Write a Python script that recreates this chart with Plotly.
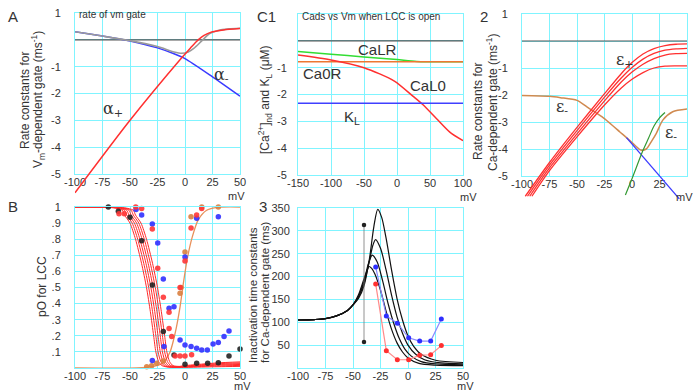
import plotly.graph_objects as go

W, H = 693, 392
CY = "#80f4ff"
TXT = "#333333"
FONT = "Liberation Sans, Arial, sans-serif"

# ---------------- Panel A : rate of vm gate ----------------
A_alpha_plus_x = [-100, -50, -3, 5, 10, 15, 20, 25, 35, 50]
A_alpha_plus_y = [-5.7, -3.0, -0.67, -0.3, -0.08, 0.1, 0.22, 0.3, 0.37, 0.42]
A_alpha_minus_x = [-100, -75, -50, -25, -10, 0, 25, 50]
A_alpha_minus_y = [0.3, 0.14, -0.04, -0.3, -0.52, -0.7, -1.38, -2.1]
A_sum_x = [-100, -75, -50, -25, -10, -3, 3, 8, 15, 22, 30, 40, 50]
A_sum_y = [0.3, 0.14, -0.03, -0.25, -0.45, -0.5, -0.45, -0.32, -0.05, 0.22, 0.35, 0.41, 0.43]

# ---------------- Panel C1 : Cads vs Vm ----------------
C_x_flat = [-150, 100]
C_CaLR_x = [-150, -100, -50, 0, 30, 100]
C_CaLR_y = [-0.4, -0.5, -0.6, -0.7, -0.77, -0.78]
C_Ca0R_y = [-0.78, -0.78]
C_CaL0_x = [-150, -100, -50, -4, 24, 39, 60, 80, 100]
C_CaL0_y = [-0.53, -0.71, -1.0, -1.5, -2.06, -2.37, -2.9, -3.4, -3.72]
C_KL_y = [-2.33, -2.33]

# ---------------- Panel 2 : Ca-dependent gate rates ----------------
E_plus_x = [
    [-97, -75, -50, -25, -10, 0, 10, 20, 30, 40, 50],
    [-95, -75, -50, -25, -10, 0, 10, 20, 30, 40, 50],
    [-93, -75, -50, -25, -10, 0, 10, 20, 30, 40, 50],
    [-91, -75, -50, -25, -10, 0, 10, 20, 30, 40, 50],
]
E_plus_y = [
    [-5.75, -4.5, -3.2, -1.95, -1.22, -0.8, -0.48, -0.28, -0.17, -0.12, -0.11],
    [-5.75, -4.6, -3.32, -2.08, -1.38, -0.98, -0.67, -0.46, -0.34, -0.29, -0.27],
    [-5.75, -4.7, -3.44, -2.22, -1.53, -1.15, -0.86, -0.65, -0.52, -0.47, -0.46],
    [-5.75, -4.8, -3.55, -2.37, -1.75, -1.42, -1.17, -1.0, -0.93, -0.92, -0.92],
]
E_minus_x = [-100, -75, -65, -50, -41, -35, -26, -18, -11, -5, 1, 5, 8, 13, 18, 22, 28, 37, 50]
E_minus_y = [-2.02, -2.05, -2.1, -2.2, -2.44, -2.6, -2.85, -3.12, -3.37, -3.58, -3.8, -3.95, -4.04, -4.0, -3.7, -3.43, -2.93, -2.62, -2.52]
E_blue_x = [-5, 0, 20, 43]
E_blue_y = [-3.58, -3.82, -4.75, -5.85]
E_green_x = [-6, 0, 10, 15, 20, 25, 30]
E_green_y = [-5.7, -5.1, -4.05, -3.6, -3.15, -2.85, -2.65]

# ---------------- Panel B : pO for LCC ----------------
B_red_x = [
    [-100, -65, -57, -55, -50, -45, -39.5, -35, -31.5, -28.5, -26.5, -24, -21, -15, 0, 15, 30, 50],
    [-100, -63, -55, -53, -48, -43, -37.5, -33, -29.5, -26.5, -24.5, -22, -19, -13, 0, 15, 30, 50],
    [-100, -61, -53, -51, -46, -41, -35.5, -31, -27.5, -24.5, -22.5, -20, -17, -11, 0, 15, 30, 50],
    [-100, -59, -51, -49, -44, -39, -33.5, -29, -25.5, -22.5, -20.5, -18, -15, -9, 0, 15, 30, 50],
    [-100, -57, -49, -47, -42, -37, -31.5, -27, -23.5, -20.5, -18.5, -16, -13, -7, 0, 15, 30, 50],
    [-100, -55, -47, -45, -40, -35, -29.5, -25, -21.5, -18.5, -16.5, -14, -11, -5, 0, 15, 30, 50],
]
B_red_y = [
    [1, 0.995, 0.98, 0.95, 0.9, 0.8, 0.65, 0.5, 0.35, 0.2, 0.1, 0.04, 0.015, 0.005, 0.004, 0.006, 0.008, 0.01],
    [1, 0.995, 0.98, 0.95, 0.9, 0.8, 0.65, 0.5, 0.35, 0.2, 0.1, 0.04, 0.015, 0.005, 0.006, 0.01, 0.013, 0.016],
    [1, 0.995, 0.98, 0.95, 0.9, 0.8, 0.65, 0.5, 0.35, 0.2, 0.1, 0.04, 0.015, 0.006, 0.008, 0.013, 0.018, 0.022],
    [1, 0.995, 0.98, 0.95, 0.9, 0.8, 0.65, 0.5, 0.35, 0.2, 0.1, 0.04, 0.015, 0.007, 0.01, 0.016, 0.022, 0.027],
    [1, 0.995, 0.98, 0.95, 0.9, 0.8, 0.65, 0.5, 0.35, 0.2, 0.1, 0.04, 0.015, 0.008, 0.012, 0.02, 0.027, 0.032],
    [1, 0.995, 0.98, 0.95, 0.9, 0.8, 0.65, 0.5, 0.35, 0.2, 0.1, 0.04, 0.015, 0.01, 0.015, 0.024, 0.032, 0.038],
]
B_orange_x = [-100, -44, -30, -20.6, -13.6, -9, -4.5, -1.5, 2.4, 6.7, 12, 19.7, 30, 50]
B_orange_y = [0, 0, 0.008, 0.03, 0.1, 0.215, 0.38, 0.526, 0.69, 0.816, 0.92, 0.98, 0.998, 1.0]

B_dots_black_x = [-69.7, -60.6, -50, -39.4, -29.7, -19.7, -10, 0, 10.6, 20.6, 30.3, 40, 50]
B_dots_black_y = [1.0, 0.973, 0.936, 0.79, 0.516, 0.226, 0.081, 0.023, 0.029, 0.029, 0.033, 0.075, 0.118]
B_dots_red_x = [-60, -55.2, -44.8, -39.4, -29.7, -24.8, -19.7, -14.5, -14.5, -12.1, -9, -4.5, 0, 6, -4.5, 0, 5.5, 10.6, 15.2, 20.3]
B_dots_red_y = [0.958, 0.958, 1.0, 0.99, 0.863, 0.619, 0.439, 0.346, 0.246, 0.195, 0.075, 0.075, 0.075, 0.083, 0.5, 0.665, 0.87, 0.95, 0.99, 1.02]
B_dots_blue_x = [-44.5, -39.4, -29.7, -24.8, -19.7, -14.5, -10, -19.1, -4.5, 0, 5.5, 10.6, 15.2, 20.3, 25.5, 30.3, 35.5, 40, -29.7, 0, 10.6, 30.3]
B_dots_blue_y = [0.985, 0.95, 0.894, 0.776, 0.553, 0.371, 0.381, 0.133, 0.174, 0.143, 0.133, 0.122, 0.112, 0.112, 0.149, 0.159, 0.195, 0.23, 0.046, 0.69, 0.93, 0.94]
B_dots_orange_x = [-34.8, -30.3, -25.8, -19.7, -4.5, -3.6, 0, 5.5, 15.2, 20.3, 24.8, 30.3]
B_dots_orange_y = [0.008, 0.014, 0.029, 0.043, 0.464, 0.5, 0.72, 0.94, 1.0, 1.02, 1.01, 1.0]

# ---------------- Panel 3 : inactivation time constants ----------------
T_x = [
    [-100, -85, -75, -65, -55, -50, -45, -40, -37, -35.5, -33, -30, -25, -20, -15, -10, -5, 0, 10, 25, 50],
    [-100, -85, -75, -65, -55, -50, -45, -40, -36, -32.5, -28, -23, -18, -13, -8, -3, 3, 12, 25, 50],
    [-100, -85, -75, -65, -55, -50, -45, -40, -35, -32, -29.5, -25, -20, -15, -10, -5, 0, 7, 15, 30, 50],
    [-100, -85, -75, -65, -55, -50, -45, -40, -35, -31, -27.5, -24, -20, -15, -10, -5, 0, 5, 12, 25, 50],
]
T_y = [
    [105, 106, 108, 114, 126, 138, 160, 195, 215, 222, 218, 205, 170, 125, 85, 55, 35, 22, 10, 6, 5],
    [105, 106, 108, 114, 126, 138, 157, 190, 228, 247, 232, 190, 140, 98, 65, 42, 26, 14, 9, 7],
    [105, 106, 108, 114, 126, 138, 155, 185, 235, 268, 281, 262, 215, 160, 112, 76, 50, 30, 18, 11, 9],
    [105, 106, 108, 114, 126, 138, 152, 180, 240, 310, 347, 330, 285, 215, 152, 105, 70, 48, 30, 17, 12],
]
T_bar_x = [-40, -40]
T_bar_y = [313, 57]
T_blue_x = [-29.4, -19.7, -9.7, 0.6, 10.6, 20.6, 30.3]
T_blue_y = [221, 114, 98, 66, 59, 59, 107]
T_red_x = [-29.4, -19.7, -9.7, 0.6, 10.6, 20.6, 30.3]
T_red_y = [184, 38, 18, 18, 28, 29, 49]


def pxx(x):
    return x / W


def pxy(y):
    return 1 - y / H


fig = go.Figure()


def line(x, y, ax, color, width=1.3, shape="spline", smoothing=0.7, **kw):
    fig.add_trace(go.Scatter(x=x, y=y, xaxis="x" + ax, yaxis="y" + ax, mode="lines",
                             line=dict(color=color, width=width, shape=shape,
                                       smoothing=smoothing if shape == "spline" else None),
                             hoverinfo="skip", showlegend=False, **kw))


def dots(x, y, ax, color, size=5.5):
    fig.add_trace(go.Scatter(x=x, y=y, xaxis="x" + ax, yaxis="y" + ax, mode="markers",
                             marker=dict(color=color, size=size, symbol="circle", opacity=0.9,
                                         line=dict(width=0)),
                             cliponaxis=False, hoverinfo="skip", showlegend=False))


# Panel A (axis 1, extended 6)
line([-100, 50], [0, 0], "", "#555555", 1.2, "linear")
line(A_alpha_minus_x, A_alpha_minus_y, "", "#3a3aff", 1.5)
line(A_alpha_plus_x, A_alpha_plus_y, "6", "#ff3030", 1.5)
line(A_sum_x, A_sum_y, "", "#9a9a9a", 1.6)

# Panel C1 (axis 2)
line([-150, 100], [0, 0], "2", "#555555", 1.2, "linear")
line(C_CaLR_x, C_CaLR_y, "2", "#33dd33", 1.5)
line(C_x_flat, C_Ca0R_y, "2", "#ee7733", 1.3, "linear")
line(C_CaL0_x, C_CaL0_y, "2", "#ff3030", 1.5)
line(C_x_flat, C_KL_y, "2", "#4040ff", 1.5, "linear")

# Panel 2 (axis 3, extended 7)
line([-100, 50], [0, 0], "3", "#555555", 1.2, "linear")
line(E_blue_x, E_blue_y, "7", "#3a3aff", 1.3, "linear")
line(E_green_x, E_green_y, "7", "#339933", 1.2)
line(E_minus_x, E_minus_y, "3", "#d08a50", 1.5)
for xs, ys in zip(E_plus_x, E_plus_y):
    line(xs, ys, "7", "#ff3030", 1.3)

# Panel B (axis 4)
line(B_orange_x, B_orange_y, "4", "#e8905a", 1.3)
for xs, ys in zip(B_red_x, B_red_y):
    line(xs, ys, "4", "#ff2a2a", 1.0)
dots(B_dots_orange_x, B_dots_orange_y, "4", "#d9803f")
dots(B_dots_black_x, B_dots_black_y, "4", "#222222")
dots(B_dots_blue_x, B_dots_blue_y, "4", "#3030ff")
dots(B_dots_red_x, B_dots_red_y, "4", "#ff3535")

# Panel 3 (axis 5)
for xs, ys in zip(T_x, T_y):
    line(xs, ys, "5", "#111111", 1.2, smoothing=0.8)
fig.add_trace(go.Scatter(x=T_bar_x, y=T_bar_y, xaxis="x5", yaxis="y5", mode="lines+markers",
                         line=dict(color="#777777", width=0.8),
                         marker=dict(color="#222222", size=4.5), hoverinfo="skip", showlegend=False))
fig.add_trace(go.Scatter(x=T_blue_x, y=T_blue_y, xaxis="x5", yaxis="y5", mode="lines+markers",
                         line=dict(color="#8a8aff", width=1.2),
                         marker=dict(color="#2f2fff", size=5), hoverinfo="skip", showlegend=False))
fig.add_trace(go.Scatter(x=T_red_x, y=T_red_y, xaxis="x5", yaxis="y5", mode="lines+markers",
                         line=dict(color="#ff8a8a", width=1.2),
                         marker=dict(color="#ff3030", size=5), hoverinfo="skip", showlegend=False))


def xax(l, r, rng, vals, anchor):
    return dict(domain=[pxx(l), pxx(r)], range=rng, tickvals=vals, ticktext=[str(v) for v in vals],
                showgrid=True, gridcolor=CY, gridwidth=1, showline=True, linecolor=CY, linewidth=1,
                mirror=True, zeroline=False, ticks="", tickfont=dict(size=11, color=TXT, family=FONT),
                ticklabelstandoff=-2, anchor=anchor, fixedrange=True, automargin=False)


def yax(t, b, rng, vals, texts, anchor, standoff):
    return dict(domain=[pxy(b), pxy(t)], range=rng, tickvals=vals, ticktext=texts,
                showgrid=True, gridcolor=CY, gridwidth=1, showline=True, linecolor=CY, linewidth=1,
                mirror=True, zeroline=False, ticks="", tickfont=dict(size=11, color=TXT, family=FONT),
                ticklabelstandoff=standoff, anchor=anchor, fixedrange=True, automargin=False)


xA = [-100, -75, -50, -25, 0, 25, 50]
yA = [-5, -4, -3, -2, -1, 0, 1]
yAt = ["-5", "-4", "-3", "-2", "-1", "", "1"]
yCt = ["-5", "-4", "-3", "-2", "-1", "", ""]
yB = [0, 0.1, 0.2, 0.3, 0.4, 0.5, 0.6, 0.7, 0.8, 0.9, 1.0]
yBt = ["", ".1", ".2", ".3", ".4", ".5", ".6", ".7", ".8", ".9", "1"]
y3 = [0, 50, 100, 150, 200, 250, 300, 350]
y3t = ["", "50", "100", "150", "200", "250", "300", "350"]

hidden = dict(visible=False, showgrid=False, zeroline=False, fixedrange=True, automargin=False)

fig.update_layout(
    width=W, height=H, margin=dict(l=0, r=0, t=0, b=0, pad=0, autoexpand=False),
    paper_bgcolor="white", plot_bgcolor="rgba(0,0,0,0)",
    font=dict(family=FONT, color=TXT),
    xaxis=xax(75, 240, [-100, 50], xA, "y"),
    yaxis=yax(13, 174, [-5, 1], yA, yAt, "x", 11),
    xaxis2=xax(298, 463, [-150, 100], [-150, -100, -50, 0, 50, 100], "y2"),
    yaxis2=yax(14, 175, [-5, 1], yA, yCt, "x2", 8),
    xaxis3=xax(522, 687, [-100, 50], xA, "y3"),
    yaxis3=yax(14, 176, [-5, 1], yA, yAt, "x3", 11),
    xaxis4=xax(75, 240, [-100, 50], xA, "y4"),
    yaxis4=yax(207, 368, [0, 1], yB, yBt, "x4", 11),
    xaxis5=xax(298, 463, [-100, 50], xA, "y5"),
    yaxis5=yax(208, 368, [0, 350], y3, y3t, "x5", 5),
    xaxis6=dict(domain=[pxx(75), pxx(240)], range=[-100, 50], anchor="y6", **hidden),
    yaxis6=dict(domain=[pxy(195), pxy(13)], range=[-5 - 21 / (161 / 6), 1], anchor="x6", **hidden),
    xaxis7=dict(domain=[pxx(522), pxx(687)], range=[-100, 50], anchor="y7", **hidden),
    yaxis7=dict(domain=[pxy(202), pxy(14)], range=[-5 - 26 / 27.0, 1], anchor="x7", **hidden),
)

ann = []


def text(x, y, s, size=11, angle=0, xanchor="center", family=FONT, color=TXT):
    ann.append(dict(x=pxx(x), y=pxy(y), xref="paper", yref="paper", text=s, showarrow=False,
                    font=dict(size=size, color=color, family=family), textangle=angle,
                    xanchor=xanchor, yanchor="middle"))


# panel letters
text(13, 16, "A", 15)
text(266, 16, "C1", 15)
text(484, 16, "2", 15)
text(13, 207, "B", 15)
text(263, 207, "3", 15)

# in-plot titles
text(77, 15, "rate of vm gate", 10, xanchor="left")
text(300, 16, "Cads vs Vm when LCC is open", 10, xanchor="left")

# curve labels
SER = "DejaVu Serif, serif"
text(221, 75, "α<sub>-</sub>", 16, family=SER)
text(113, 110, "α<sub>+</sub>", 16, family=SER)
text(625, 60, "ε<sub>+</sub>", 16, family=SER)
text(562, 107, "ε<sub>-</sub>", 16, family=SER)
text(671, 133, "ε<sub>-</sub>", 16, family=SER)
text(377, 50, "CaLR", 15)
text(322, 74, "Ca0R", 15)
text(428, 85, "CaL0", 15)
text(352, 118, "K<sub>L</sub>", 15)

# axis titles
text(25, 100, "Rate constants for", 12, -90)
text(38, 100, "V<sub>m</sub>-dependent gate (ms<sup>-1</sup>)", 12, -90)
text(265, 100, "[Ca<sup>2+</sup>]<sub>nd</sub> and K<sub>L</sub> (μM)", 12, -90)
text(478, 112, "Rate constants for", 12, -90)
text(492, 102, "Ca-dependent gate (ms<sup>-1</sup>)", 12, -90)
text(42, 287, "pO for LCC", 12, -90)
text(253, 295, "Inactivation time constants", 11.5, -90)
text(265, 293, "for Ca-dependent gate (ms)", 11.5, -90)

# mV units
text(236, 196, "mV", 11)
text(468, 197, "mV", 11)
text(684, 197, "mV", 11)
text(242, 386, "mV", 11)
text(466, 386, "mV", 11)

fig.update_layout(annotations=ann)
fig.write_html("out.html", config={"displayModeBar": False, "staticPlot": True},
               post_script="document.body.style.margin='0';document.body.style.overflow='hidden';")
